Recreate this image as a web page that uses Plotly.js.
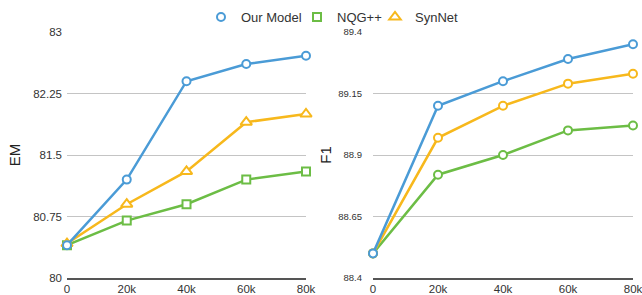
<!DOCTYPE html>
<html><head><meta charset="utf-8">
<script src="https://cdn.plot.ly/plotly-3.0.1.min.js"></script>
<style>html,body{margin:0;padding:0;background:#fff}#c{width:642px;height:295px}</style>
</head><body><div id="c"></div>
<script>
const xVals = [0, 20000, 40000, 60000, 80000];
const xTickText = ['0', '20k', '40k', '60k', '80k'];
const seriesNames = ['Our Model', 'NQG++', 'SynNet'];
const emOurModel = [80.40, 81.20, 82.40, 82.61, 82.71];
const emNQG = [80.40, 80.70, 80.90, 81.20, 81.30];
const emSynNet = [80.42, 80.90, 81.30, 81.90, 82.00];
const f1OurModel = [88.50, 89.10, 89.20, 89.29, 89.35];
const f1NQG = [88.50, 88.82, 88.90, 89.00, 89.02];
const f1SynNet = [88.50, 88.97, 89.10, 89.19, 89.23];
const emTicks = [80, 80.75, 81.5, 82.25, 83];
const emTickText = ['80', '80.75', '81.5', '82.25', '83'];
const f1Ticks = [88.4, 88.65, 88.9, 89.15, 89.4];
const f1TickText = ['88.4', '88.65', '88.9', '89.15', '89.4'];

const colors = ['#4a9bd6', '#6cbd45', '#f7b81c'];
const leftSymbols = ['circle', 'square', 'triangle-up'];
const emData = [emOurModel, emNQG, emSynNet];
const f1Data = [f1OurModel, f1NQG, f1SynNet];

const traces = [];
const order = [1, 2, 0];
order.forEach(i => {
  traces.push({
    x: xVals, y: emData[i], xaxis: 'x', yaxis: 'y', name: seriesNames[i],
    showlegend: false,
    mode: 'lines+markers', cliponaxis: false,
    line: {color: colors[i], width: 2.5},
    marker: {symbol: leftSymbols[i], size: i === 2 ? 10 : 8, color: '#fff', line: {color: colors[i], width: 2}}
  });
});
order.forEach(i => {
  traces.push({
    x: xVals, y: f1Data[i], xaxis: 'x2', yaxis: 'y2', name: seriesNames[i],
    showlegend: false,
    mode: 'lines+markers', cliponaxis: false,
    line: {color: colors[i], width: 2.5},
    marker: {symbol: 'circle', size: 8, color: '#fff', line: {color: colors[i], width: 2}}
  });
});
// legend entries (marker only, like the reference), one legend per entry for exact spacing
const legendIds = ['legend', 'legend2', 'legend3'];
[0, 1, 2].forEach(i => {
  traces.push({
    x: [null], y: [null], xaxis: 'x', yaxis: 'y', name: seriesNames[i],
    showlegend: true, legend: legendIds[i], mode: 'markers',
    marker: {symbol: leftSymbols[i], size: i === 2 ? 10 : 8, color: '#fff', line: {color: colors[i], width: 2}}
  });
});

const fontFam = 'Liberation Sans, Arial, sans-serif';
const xCommon = {
  range: [0, 80000], tickvals: xVals, ticktext: xTickText, showgrid: false, zeroline: false,
  showline: true, linecolor: '#555', linewidth: 1.5, ticks: '', ticklen: 0,
  tickfont: {size: 11.5, color: '#333', family: fontFam}, ticklabeloverflow: 'allow'
};
function leg(px) {
  return {orientation: 'h', x: px / 642, xanchor: 'left', y: 1.0, yanchor: 'bottom',
    bgcolor: 'rgba(0,0,0,0)', font: {size: 13, color: '#333'}};
}
const layout = {
  width: 642, height: 295,
  margin: {l: 0, r: 0, t: 32, b: 17},
  paper_bgcolor: '#fff', plot_bgcolor: '#fff',
  font: {family: fontFam, color: '#333'},
  showlegend: true,
  legend: leg(201), legend2: leg(297), legend3: leg(375),
  xaxis: Object.assign({}, xCommon, {domain: [67/642, 306/642], anchor: 'y'}),
  xaxis2: Object.assign({}, xCommon, {domain: [373/642, 633/642], anchor: 'y2'}),
  yaxis: {
    domain: [0, 1], anchor: 'x', range: [80, 83], tickvals: emTicks, ticktext: emTickText,
    showgrid: true, gridcolor: '#c4c4c4', gridwidth: 1, zeroline: false, showline: false,
    ticks: '', tickfont: {size: 11.5, color: '#333'}, ticklabelstandoff: 4,
    title: {text: 'EM', font: {size: 15, color: '#222'}, standoff: 8}
  },
  yaxis2: {
    domain: [0, 1], anchor: 'x2', range: [88.4, 89.4], tickvals: f1Ticks, ticktext: f1TickText,
    showgrid: true, gridcolor: '#c4c4c4', gridwidth: 1, zeroline: false, showline: false,
    ticks: '', tickfont: {size: 9.5, color: '#333'}, ticklabelstandoff: 10,
    title: {text: 'F1', font: {size: 15, color: '#222'}, standoff: 2}
  }
};
Plotly.newPlot('c', traces, layout, {displayModeBar: false, staticPlot: true});
</script></body></html>
